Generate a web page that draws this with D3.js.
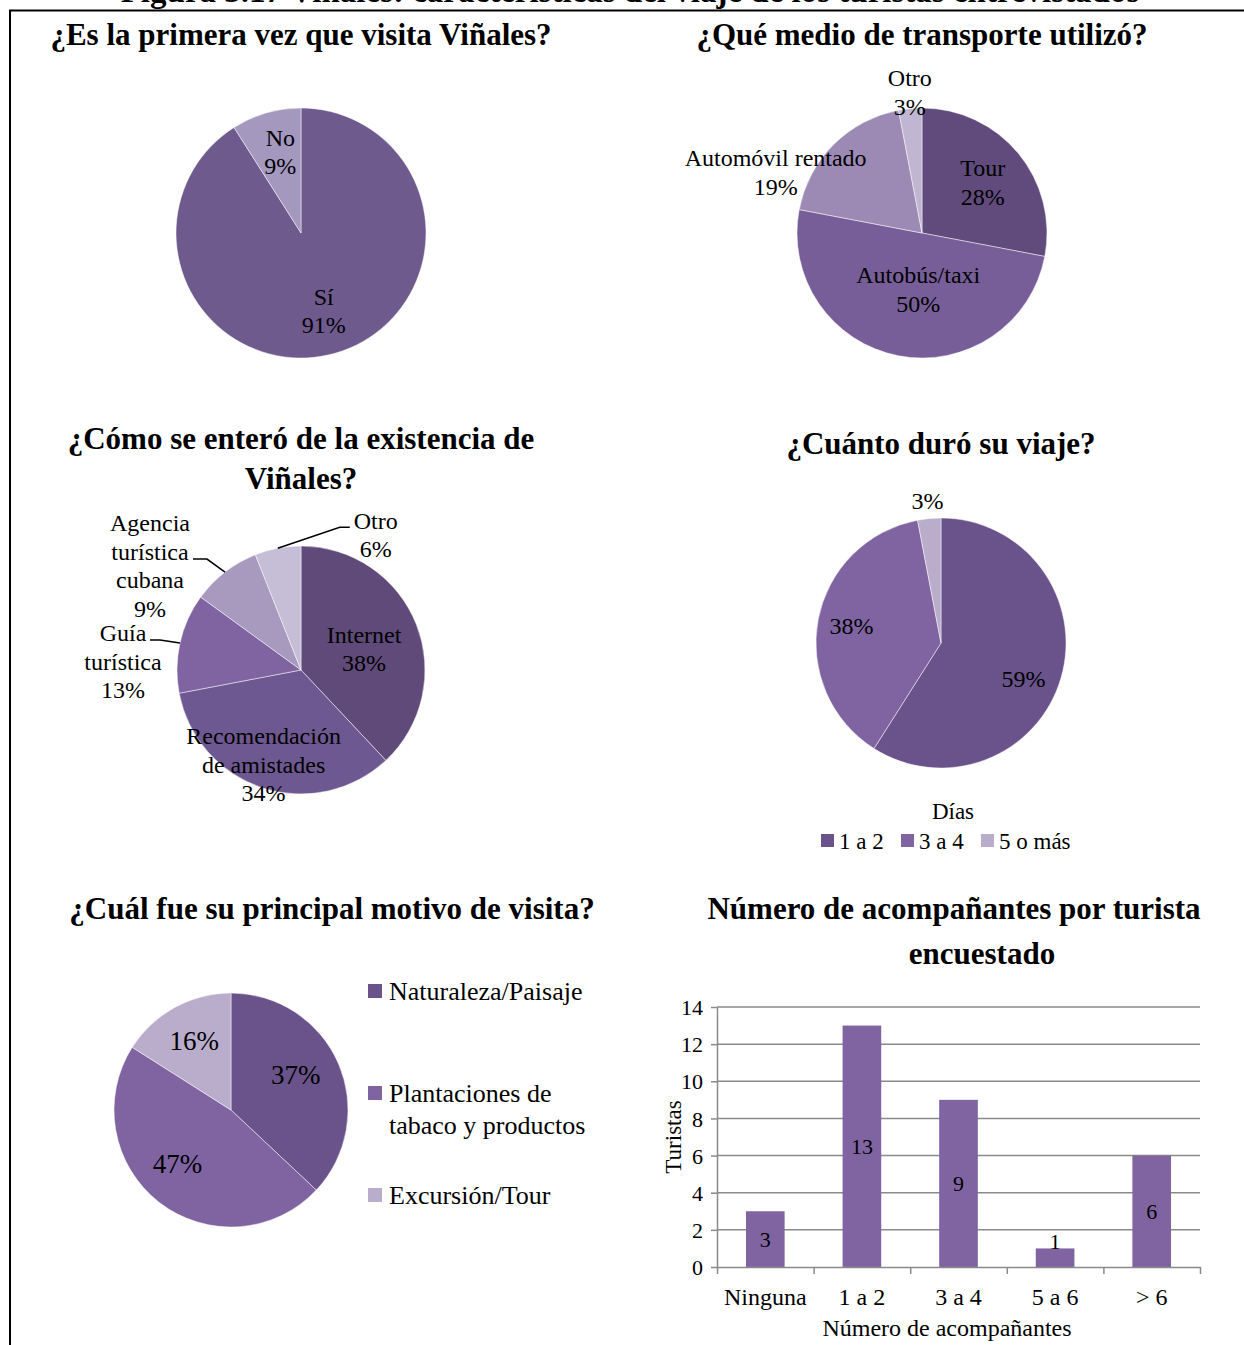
<!DOCTYPE html>
<html>
<head>
<meta charset="utf-8">
<script src="https://cdn.jsdelivr.net/npm/d3@7"></script>
<style>
  body { margin: 0; background: #fff; }
  svg text { font-family: 'Palatino Linotype', 'Book Antiqua', Palatino, 'Liberation Serif', serif; fill: #000; }
</style>
</head>
<body>
<svg width="1244" height="1345"></svg>
<script>
// ---- data ----
const figTitle = "Figura 3.17 Viñales: características del viaje de los turistas entrevistados";

const visitaNames = [["Sí"], ["No"]];
const visitaValues = [91, 9];

const transporteNames = [["Tour"], ["Autobús/taxi"], ["Automóvil rentado"], ["Otro"]];
const transporteValues = [28, 50, 19, 3];

const enteroNames = [["Internet"], ["Recomendación", "de amistades"], ["Guía", "turística"], ["Agencia", "turística", "cubana"], ["Otro"]];
const enteroValues = [38, 34, 13, 9, 6];

const duracionNames = ["1 a 2", "3 a 4", "5 o más"];
const duracionValues = [59, 38, 3];

const motivoNames = [["Naturaleza/Paisaje"], ["Plantaciones de", "tabaco y productos"], ["Excursión/Tour"]];
const motivoValues = [37, 47, 16];

const acompCategories = ["Ninguna", "1 a 2", "3 a 4", "5 a 6", "> 6"];
const acompValues = [3, 13, 9, 1, 6];
const acompTicks = [0, 2, 4, 6, 8, 10, 12, 14];

// ---- setup ----
let svg = d3.select("svg");

svg.append("text")
  .attr("x", 630).attr("y", 2)
  .attr("text-anchor", "middle")
  .attr("font-weight", "bold")
  .attr("font-size", 33)
  .text(figTitle);

svg.append("path")
  .attr("d", "M10,1345V10.5H1244")
  .attr("fill", "none")
  .attr("stroke", "#000")
  .attr("stroke-width", 2);

function title(lines, x, y, lh) {
  let t = svg.append("text")
    .attr("text-anchor", "middle")
    .attr("font-weight", "bold")
    .attr("font-size", 31);
  lines.forEach((s, i) => {
    t.append("tspan").attr("x", x).attr("y", y + i * lh).attr("dominant-baseline", "central").text(s);
  });
}

function textBlock(g, lines, x, y, size, lh) {
  let t = g.append("text")
    .attr("text-anchor", "middle")
    .attr("font-size", size);
  let y0 = y - (lines.length - 1) * lh / 2;
  lines.forEach((s, i) => {
    t.append("tspan").attr("x", x).attr("y", y0 + i * lh).attr("dominant-baseline", "central").text(s);
  });
}

// place: [radius factor, dx, dy] per slice; leaders: optional elbow offsets from the rim
function drawPie(cx, cy, r, values, colors, labelLines, place, size, lh, leaders) {
  let g = svg.append("g").attr("transform", `translate(${cx},${cy})`);
  let arcs = d3.pie().sort(null)(values);
  let arc = d3.arc().innerRadius(0).outerRadius(r);

  g.selectAll("path")
    .data(arcs)
    .enter().append("path")
    .attr("d", arc)
    .attr("fill", (d, i) => colors[i])
    .attr("stroke", "#fff")
    .attr("stroke-opacity", 0.6)
    .attr("stroke-width", 0.8);

  arcs.forEach((d, i) => {
    let a = (d.startAngle + d.endAngle) / 2;
    let p = place[i];
    let x = Math.sin(a) * r * p[0] + p[1];
    let y = -Math.cos(a) * r * p[0] + p[2];
    textBlock(g, labelLines[i], x, y, size, lh);
    if (leaders && leaders[i]) {
      let ex = Math.sin(a) * r, ey = -Math.cos(a) * r;
      let pts = [[ex, ey]].concat(leaders[i].map(o => [ex + o[0], ey + o[1]]));
      g.append("path")
        .attr("d", d3.line()(pts))
        .attr("fill", "none")
        .attr("stroke", "#000")
        .attr("stroke-width", 1.5);
    }
  });
  return g;
}

const pct = v => v + "%";

// ---- 1. primera vez ----
title(["¿Es la primera vez que visita Viñales?"], 301, 34, 40);
drawPie(301, 233, 125, visitaValues, ["#6f5a8e", "#a598be"],
  visitaNames.map((n, i) => n.concat(pct(visitaValues[i]))),
  [[0.65, 0, 0], [0.65, 2, -3]], 24, 28);

// ---- 2. transporte ----
title(["¿Qué medio de transporte utilizó?"], 922, 34, 40);
drawPie(922, 233, 125, transporteValues, ["#604b7c", "#775e98", "#9c8ab5", "#c0b6d1"],
  transporteNames.map((n, i) => n.concat(pct(transporteValues[i]))),
  [[0.63, 0, 0], [0.46, 7, 0], [1.0, -58, 28], [1.12, 1, -1]], 24, 29);

// ---- 3. cómo se enteró ----
title(["¿Cómo se enteró de la existencia de", "Viñales?"], 301, 438, 40);
drawPie(301, 670, 124, enteroValues, ["#5f4a7a", "#6e5891", "#8064a2", "#a899bf", "#c6bed7"],
  enteroNames.map((n, i) => n.concat(pct(enteroValues[i]))),
  [[0.53, 2, 3], [0.82, -6, -2], [1.0, -57, 19], [1.0, -75, -6], [1.0, 98, -13]], 24, 28.5,
  [null, null, [[-20, -3], [-30, -3]], [[-18, -13], [-32, -13]], [[62, -21], [72, -21]]]);

// ---- 4. duración ----
title(["¿Cuánto duró su viaje?"], 941, 443, 40);
const durColors = ["#69538a", "#8064a2", "#b9adcb"];
drawPie(941, 643, 125, duracionValues, durColors,
  duracionValues.map(v => [pct(v)]),
  [[0.72, -4, 11], [0.73, 0, 0], [1.14, 0, 0]], 24, 28);

svg.append("text")
  .attr("x", 953).attr("y", 811)
  .attr("text-anchor", "middle").attr("dominant-baseline", "central")
  .attr("font-size", 23)
  .text("Días");

let durLegend = svg.append("g").attr("transform", "translate(821,841)");
let durX = d3.scalePoint().domain(duracionNames).range([0, 160]);
durLegend.selectAll("rect")
  .data(duracionNames)
  .enter().append("rect")
  .attr("x", d => durX(d)).attr("y", -7)
  .attr("width", 13).attr("height", 13)
  .attr("fill", (d, i) => durColors[i]);
durLegend.selectAll("text")
  .data(duracionNames)
  .enter().append("text")
  .attr("x", d => durX(d) + 18).attr("y", 0)
  .attr("dominant-baseline", "central")
  .attr("font-size", 23)
  .text(d => d);

// ---- 5. motivo ----
title(["¿Cuál fue su principal motivo de visita?"], 332, 908, 40);
drawPie(231, 1110, 117, motivoValues, durColors,
  motivoValues.map(v => [pct(v)]),
  [[0.63, -3, -6], [0.65, -7, -6], [0.67, 1, 0]], 27, 28);

let motLegend = svg.append("g").attr("transform", "translate(368,0)");
const motY = [991, 1093, 1195];
motivoNames.forEach((n, i) => {
  motLegend.append("rect")
    .attr("x", 0).attr("y", motY[i] - 7)
    .attr("width", 14).attr("height", 14)
    .attr("fill", durColors[i]);
  let t = motLegend.append("text").attr("font-size", 26);
  n.forEach((s, j) => {
    t.append("tspan").attr("x", 21).attr("y", motY[i] + j * 32).attr("dominant-baseline", "central").text(s);
  });
});

// ---- 6. acompañantes ----
title(["Número de acompañantes por turista"], 954, 908, 45);
title(["encuestado"], 982, 953, 45);

const bx0 = 717, bx1 = 1200, by0 = 1267, by1 = 1007;
let x = d3.scaleBand().domain(acompCategories).range([bx0, bx1]).paddingInner(0.6).paddingOuter(0.3);
let y = d3.scaleLinear().domain([0, 14]).range([by0, by1]);
const axisGray = "#8a8a8a";

svg.append("g")
  .selectAll("line")
  .data(acompTicks.slice(1))
  .enter().append("line")
  .attr("x1", bx0).attr("x2", bx1)
  .attr("y1", d => y(d)).attr("y2", d => y(d))
  .attr("stroke", axisGray).attr("stroke-width", 1.5);

svg.append("g")
  .selectAll("rect")
  .data(acompValues)
  .enter().append("rect")
  .attr("x", (d, i) => x(acompCategories[i]))
  .attr("y", d => y(d))
  .attr("width", x.bandwidth())
  .attr("height", d => y(0) - y(d))
  .attr("fill", "#8064a2");

svg.append("g")
  .selectAll("text")
  .data(acompValues)
  .enter().append("text")
  .attr("x", (d, i) => x(acompCategories[i]) + x.bandwidth() / 2)
  .attr("y", d => (y(0) - y(d)) < 30 ? y(d) - 7 : (y(0) + y(d)) / 2)
  .attr("text-anchor", "middle").attr("dominant-baseline", "central")
  .attr("font-size", 22)
  .text(d => d);

let yAxis = svg.append("g")
  .attr("transform", `translate(${bx0},0)`)
  .call(d3.axisLeft(y).tickValues(acompTicks).tickSize(6).tickSizeOuter(0).tickPadding(8));

let bounds = d3.scaleLinear().domain([0, acompCategories.length]).range([bx0, bx1]);
let xTicks = svg.append("g")
  .attr("transform", `translate(0,${by0})`)
  .call(d3.axisBottom(bounds).tickValues(d3.range(acompCategories.length + 1)).tickSize(7).tickSizeOuter(0).tickFormat(""));

let xAxis = svg.append("g")
  .attr("transform", `translate(0,${by0})`)
  .call(d3.axisBottom(x).tickSize(0).tickPadding(30));
xAxis.select(".domain").remove();

[yAxis, xTicks].forEach(a => {
  a.selectAll("path, line").attr("stroke", axisGray).attr("stroke-width", 1.5);
});
[yAxis, xAxis].forEach(a => {
  a.selectAll("text")
    .attr("font-family", null)
    .attr("font-size", 22)
    .attr("fill", "#000");
});
yAxis.selectAll("text").attr("dy", "0.35em");
xAxis.selectAll("text").attr("dy", "0").attr("dominant-baseline", "central");
xAxis.selectAll("text").attr("font-size", 24);

svg.append("text")
  .attr("transform", `translate(673,1137) rotate(-90)`)
  .attr("text-anchor", "middle").attr("dominant-baseline", "central")
  .attr("font-size", 23)
  .text("Turistas");

svg.append("text")
  .attr("x", 947).attr("y", 1328)
  .attr("text-anchor", "middle").attr("dominant-baseline", "central")
  .attr("font-size", 24)
  .text("Número de acompañantes");
</script>
</body>
</html>
